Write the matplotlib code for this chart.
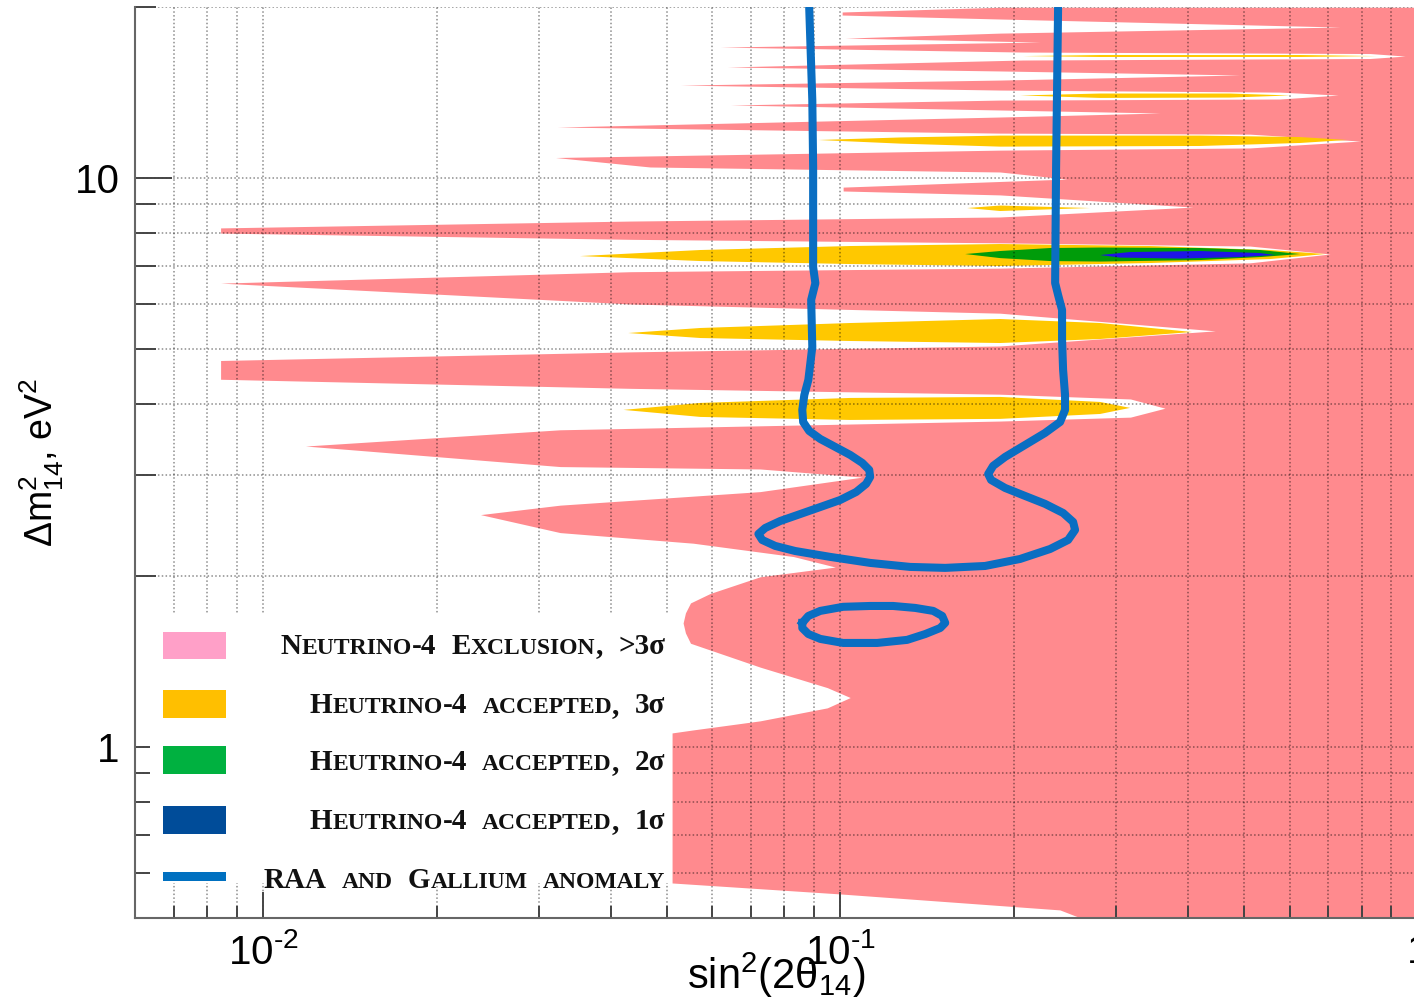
import numpy as np
import matplotlib
matplotlib.use("Agg")
import matplotlib.pyplot as plt
from matplotlib.patches import Rectangle
from matplotlib.ticker import LogLocator, NullFormatter
from matplotlib.offsetbox import TextArea, HPacker, AnnotationBbox

plt.rcParams['font.family'] = ['Liberation Sans', 'DejaVu Sans']
plt.rcParams['mathtext.fontset'] = 'custom'
plt.rcParams['mathtext.rm'] = 'Liberation Sans'
plt.rcParams['mathtext.it'] = 'Liberation Sans:italic'
plt.rcParams['mathtext.bf'] = 'Liberation Sans:bold'

# left edge of the Neutrino-4 exclusion (>3 sigma) region, read top -> bottom
pink_dm2 = [
    20.0, 19.62, 19.38, 19.07, 18.46, 18.01, 17.65, 17.37, 17.02,
    16.68, 16.58, 16.41, 16.25, 16.15, 15.70, 15.45, 15.20, 14.89, 14.59,
    14.30, 14.18, 14.01, 13.79, 13.73, 13.46, 13.19, 13.03, 12.82, 12.31,
    12.01, 11.96, 11.63, 11.31, 11.21, 10.88, 10.47, 10.26, 9.97, 9.65, 9.50,
    9.35, 8.90, 8.55, 8.41, 8.18, 8.01, 7.81, 7.70, 7.60, 7.36, 7.10,
    6.95, 6.85, 6.54, 6.01, 5.79, 5.39, 5.07, 4.95, 4.78, 4.43, 4.27,
    4.17, 4.09, 3.94, 3.80, 3.74, 3.61, 3.38, 3.11, 3.08, 2.98, 2.81,
    2.66, 2.56, 2.38, 2.28, 2.16, 2.07, 1.99, 1.86, 1.79, 1.719, 1.65, 1.585, 1.52,
    1.38, 1.27, 1.22, 1.17, 1.11, 1.07, 1.057, 0.5755, 0.5505, 0.516, 0.50]
pink_left = [
    0.189, 0.1007, 0.1007, 0.189, 0.734, 0.189, 0.1019, 0.222, 0.0619,
    0.207, 0.827, 0.951, 0.827, 0.207, 0.0637, 0.189, 0.492, 0.189, 0.0528,
    0.189, 0.577, 0.728, 0.577, 0.189, 0.0645, 0.189, 0.358, 0.189, 0.0323,
    0.189, 0.512, 0.795, 0.512, 0.189, 0.0321, 0.0468, 0.189, 0.247, 0.1011, 0.1011,
    0.189, 0.408, 0.189, 0.0433, 0.00844, 0.00844, 0.0433, 0.189, 0.512, 0.705, 0.512,
    0.189, 0.0433, 0.00844, 0.0433, 0.189, 0.446, 0.189, 0.0433, 0.00844, 0.00844, 0.0433,
    0.189, 0.318, 0.365, 0.318, 0.189, 0.0327, 0.01184, 0.0327, 0.0726, 0.1091, 0.0726,
    0.0327, 0.0238, 0.0327, 0.0556, 0.0829, 0.0980, 0.0726, 0.0595, 0.0550, 0.0539, 0.0534, 0.0539, 0.0550,
    0.0726, 0.0949, 0.1040, 0.0949, 0.0726, 0.0556, 0.0511, 0.0511, 0.0999, 0.240, 0.260]

# accepted 3 sigma islands (outline points)
y3s_1_x = [0.2073, 0.2818, 0.6255, 0.8503, 0.6255, 0.2818]
y3s_1_y = [16.41, 16.48, 16.48, 16.41, 16.35, 16.35]
y3s_2_x = [0.2048, 0.2818, 0.4732, 0.6011, 0.4732, 0.2818]
y3s_2_y = [13.99, 14.10, 14.10, 13.99, 13.87, 13.85]
y3s_3_x = [0.0916, 0.1269, 0.1891, 0.4198, 0.6255, 0.7545, 0.6255, 0.4198, 0.1891, 0.1269]
y3s_3_y = [11.68, 11.80, 11.89, 11.89, 11.82, 11.68, 11.54, 11.40, 11.37, 11.51]
y3s_4_x = [0.1658, 0.1891, 0.2707, 0.1891]
y3s_4_y = [8.866, 8.956, 8.866, 8.760]
y3s_5_x = [0.0354, 0.0572, 0.1040, 0.1891, 0.3440, 0.5551, 0.6911, 0.5551, 0.3440, 0.1891, 0.1040, 0.0572]
y3s_5_y = [7.298, 7.479, 7.601, 7.663, 7.601, 7.479, 7.358, 7.210, 7.095, 7.009, 7.066, 7.152]
y3s_6_x = [0.0429, 0.0572, 0.1040, 0.1891, 0.2818, 0.4067, 0.2818, 0.1891, 0.1040, 0.0572]
y3s_6_y = [5.343, 5.453, 5.564, 5.655, 5.564, 5.365, 5.215, 5.131, 5.173, 5.236]
y3s_7_x = [0.0421, 0.0572, 0.1040, 0.1891, 0.2818, 0.3176, 0.2818, 0.1891, 0.1040, 0.0572]
y3s_7_y = [3.913, 4.025, 4.107, 4.124, 4.041, 3.945, 3.849, 3.773, 3.757, 3.803]

# accepted 2 sigma and 1 sigma islands
y2s_x = [0.1645, 0.1891, 0.2308, 0.2818, 0.4198, 0.5333, 0.6255, 0.5333, 0.4198, 0.2818, 0.2308, 0.1891]
y2s_y = [7.358, 7.449, 7.540, 7.555, 7.540, 7.479, 7.358, 7.268, 7.181, 7.137, 7.152, 7.238]
y1s_x = [0.2818, 0.3176, 0.4198, 0.5333, 0.5660, 0.4924, 0.3877, 0.3051]
y1s_y = [7.328, 7.418, 7.449, 7.388, 7.328, 7.268, 7.224, 7.253]

# RAA + gallium anomaly contour
raa_x = [0.0883, 0.0894, 0.0897, 0.0897, 0.0905, 0.0890, 0.0894, 0.0880, 0.0866, 0.0859,
         0.0862, 0.0883, 0.0923, 0.0980, 0.1040, 0.1091, 0.1122, 0.1126, 0.1108, 0.1065,
         0.0999, 0.0923, 0.0852, 0.0787, 0.0741, 0.0721, 0.0732, 0.0771, 0.0835, 0.0960,
         0.1126, 0.1321, 0.1519, 0.1781, 0.2048, 0.2308, 0.2480, 0.2550, 0.2530, 0.2431,
         0.2262, 0.2089, 0.1929, 0.1824, 0.1803, 0.1839, 0.1929, 0.2089, 0.2262, 0.2402,
         0.2450, 0.2450, 0.2431, 0.2421, 0.2421, 0.2383, 0.2355, 0.2364, 0.2383]
raa_dm2 = [20.0, 13.73, 10.47, 6.98, 6.54, 6.11, 5.05, 4.418, 4.157, 3.913,
           3.726, 3.593, 3.478, 3.367, 3.260, 3.157, 3.068, 2.982, 2.899, 2.806,
           2.716, 2.640, 2.566, 2.495, 2.425, 2.367, 2.310, 2.255, 2.209, 2.157,
           2.105, 2.071, 2.063, 2.079, 2.139, 2.227, 2.310, 2.406, 2.485, 2.577,
           2.674, 2.761, 2.852, 2.946, 3.018, 3.119, 3.234, 3.395, 3.564, 3.726,
           3.913, 4.157, 4.600, 5.194, 5.866, 6.233, 6.543, 10.47, 20.0]
loop_x = [0.0859, 0.0880, 0.0923, 0.1011, 0.1126, 0.1234, 0.1348, 0.1448, 0.1501, 0.1519,
          0.1489, 0.1403, 0.1305, 0.1158, 0.1011, 0.0923, 0.0880, 0.0859, 0.0859]
loop_dm2 = [1.651, 1.698, 1.733, 1.762, 1.768, 1.768, 1.754, 1.733, 1.698, 1.651,
            1.617, 1.578, 1.541, 1.522, 1.522, 1.547, 1.578, 1.617, 1.651]

legend_labels = ["Neutrino-4 Exclusion, >3σ",
                 "Heutrino-4 accepted, 3σ",
                 "Heutrino-4 accepted, 2σ",
                 "Heutrino-4 accepted, 1σ",
                 "RAA and Gallium anomaly"]
legend_colors = ["#ffa0c8", "#ffbf00", "#00b140", "#004c99", "#0070c0"]

PINK = "#ff8a8e"
YELLOW = "#ffc800"
GREEN = "#009c0a"
BLUE = "#1e14e6"
CURVE = "#0a6ec2"

fig = plt.figure(figsize=(14.14, 10.07), dpi=100)
ax = fig.add_axes([0.0955, 0.0887, 0.9071, 0.9041])
ax.set_xscale('log')
ax.set_yscale('log')
ax.set_xlim(0.006, 1.0)
ax.set_ylim(0.5, 20)

ax.fill_betweenx(pink_dm2, pink_left, 1.0, color=PINK, lw=0, zorder=1)
for xs, ys in [(y3s_1_x, y3s_1_y), (y3s_2_x, y3s_2_y), (y3s_3_x, y3s_3_y), (y3s_4_x, y3s_4_y),
               (y3s_5_x, y3s_5_y), (y3s_6_x, y3s_6_y), (y3s_7_x, y3s_7_y)]:
    ax.fill(xs, ys, color=YELLOW, lw=0, zorder=1.1)
ax.fill(y2s_x, y2s_y, color=GREEN, lw=0, zorder=1.2)
ax.fill(y1s_x, y1s_y, color=BLUE, lw=0, zorder=1.3)

ax.plot(raa_x, raa_dm2, color=CURVE, lw=5.8, solid_joinstyle='round', solid_capstyle='round', zorder=3)
ax.plot(loop_x, loop_dm2, color=CURVE, lw=5.8, solid_joinstyle='round', zorder=3)

# axes, ticks, grid
ax.set_xticks([0.01, 0.1, 1.0], labels=[r"10$^{\text{-}2}$", r"10$^{\text{-}1}$", "1"])
ax.set_yticks([1, 10], labels=["1", "10"])
ax.xaxis.set_minor_locator(LogLocator(base=10, subs=np.arange(2, 10), numticks=50))
ax.yaxis.set_minor_locator(LogLocator(base=10, subs=np.arange(2, 10), numticks=50))
ax.xaxis.set_minor_formatter(NullFormatter())
ax.yaxis.set_minor_formatter(NullFormatter())
ax.grid(True, which='both', color='k', alpha=0.45, linestyle=(0, (1, 1.5)), linewidth=1.1)

ax.tick_params(axis='x', which='major', direction='in', length=18.7, width=1.4, color='#444',
               labelsize=29, pad=11)
ax.tick_params(axis='x', which='minor', direction='in', length=8.6, width=1.4, color='#444')
ax.tick_params(axis='y', which='major', direction='in', length=26.6, width=1.4, color='#444',
               labelsize=29, pad=11)
ax.tick_params(axis='y', which='minor', direction='in', length=15, width=1.4, color='#444')
ax.spines['top'].set_visible(False)
ax.spines['right'].set_visible(False)
for s in ['left', 'bottom']:
    ax.spines[s].set_color('#666')
    ax.spines[s].set_linewidth(1.5)

ax.set_xlabel(r"sin$^2$(2θ$_{14}$)", fontsize=30)
ax.xaxis.set_label_coords(0.5, -0.036)
ax.set_ylabel(r"$\Delta\mathrm{m}^2_{14}$, eV$^2$", fontsize=27)
ax.yaxis.set_label_coords(-0.054, 0.5)

# legend drawn by hand (small caps labels, right aligned)
ax.add_patch(Rectangle((0.0117, 0.0381), 0.4067, 0.2966, transform=ax.transAxes,
                       facecolor='white', edgecolor='none', zorder=5))

BIG_PT, SMALL_PT, WORD_SEP = 21, 17, 11


def small_caps(label):
    words = []
    for word in label.split(' '):
        runs = []
        for ch in word:
            small = ch.isascii() and ch.islower()
            piece = ch.upper() if small else ch
            if runs and runs[-1][1] == small:
                runs[-1][0] += piece
            else:
                runs.append([piece, small])
        areas = [TextArea(t, textprops=dict(family='Liberation Serif', weight='bold',
                                            size=SMALL_PT if s else BIG_PT, color='#111'))
                 for t, s in runs]
        words.append(HPacker(children=areas, align='baseline', pad=0, sep=0))
    return HPacker(children=words, align='baseline', pad=0, sep=WORD_SEP)


patch_y = [0.2838, 0.2197, 0.1582, 0.0919, 0.0403]
patch_h = [0.0303, 0.0304, 0.0304, 0.0308, 0.0102]
text_y = [0.3014, 0.2364, 0.1738, 0.1084, 0.0433]
for lab, col, py, ph, ty in zip(legend_labels, legend_colors, patch_y, patch_h, text_y):
    ax.add_patch(Rectangle((0.0218, py), 0.0491, ph, transform=ax.transAxes,
                           facecolor=col, edgecolor='none', zorder=6))
    ab = AnnotationBbox(small_caps(lab), (0.4132, ty - 0.003), xycoords='axes fraction',
                        box_alignment=(1.0, 0.5), frameon=False, pad=0, zorder=6)
    ax.add_artist(ab)

fig.savefig('out.png', dpi=100)
